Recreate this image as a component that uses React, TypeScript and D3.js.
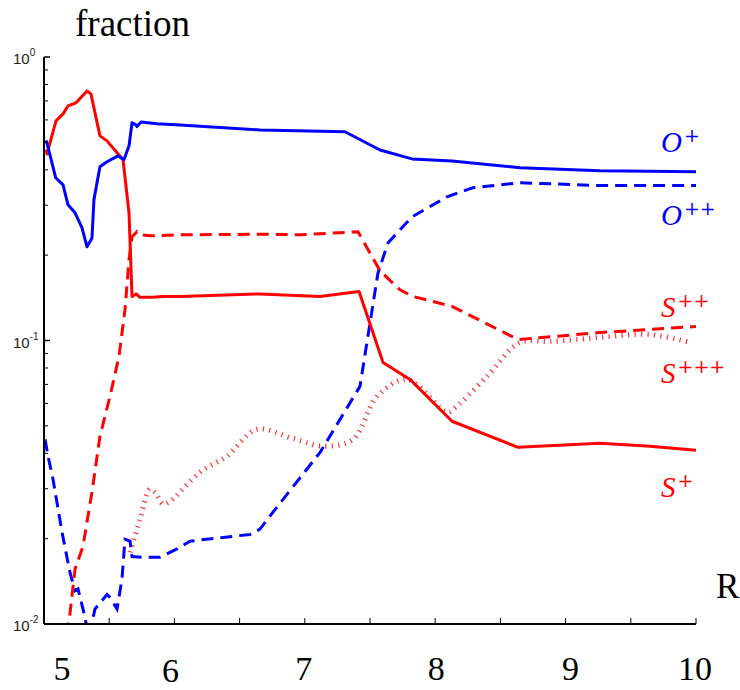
import React from "react";
import * as d3 from "d3";

// ---- data ----
const oPlusX = [5.015, 5.02, 5.09, 5.146, 5.184, 5.238, 5.291, 5.33, 5.368, 5.383, 5.429, 5.483, 5.567, 5.613, 5.652, 5.675, 5.706, 5.713, 5.744, 5.867, 6.043, 6.656, 7.308, 7.577, 7.822, 8.129, 8.65, 9.264, 10.0];
const oPlusY = [0.498, 0.503, 0.375, 0.354, 0.301, 0.282, 0.25, 0.214, 0.23, 0.314, 0.41, 0.427, 0.448, 0.434, 0.486, 0.586, 0.576, 0.568, 0.59, 0.581, 0.576, 0.553, 0.545, 0.47, 0.437, 0.43, 0.407, 0.397, 0.394];

const oPP_X = [5.008, 5.031, 5.069, 5.138, 5.199, 5.238, 5.261, 5.299, 5.345, 5.391, 5.483, 5.506, 5.56, 5.598, 5.621, 5.66, 5.675, 5.759, 5.89, 6.02, 6.12, 6.58, 6.656, 6.756, 7.117, 7.423, 7.561, 7.638, 7.822, 8.09, 8.29, 8.65, 9.264, 10.0];
const oPP_Y = [0.0448, 0.0391, 0.0324, 0.0211, 0.0152, 0.0131, 0.0133, 0.0113, 0.009, 0.0113, 0.0127, 0.0124, 0.0113, 0.0144, 0.0199, 0.0196, 0.0173, 0.0172, 0.0172, 0.0184, 0.0196, 0.0207, 0.0216, 0.0248, 0.0403, 0.0689, 0.173, 0.221, 0.273, 0.321, 0.346, 0.36, 0.352, 0.352];

const sPlusX = [5.015, 5.023, 5.092, 5.146, 5.184, 5.245, 5.33, 5.36, 5.429, 5.483, 5.606, 5.652, 5.675, 5.706, 5.736, 5.828, 5.913, 6.043, 6.656, 7.117, 7.416, 7.6, 7.807, 8.129, 8.635, 9.264, 9.647, 10.0];
const sPlusY = [0.471, 0.455, 0.595, 0.63, 0.672, 0.689, 0.759, 0.741, 0.527, 0.506, 0.434, 0.282, 0.143, 0.146, 0.142, 0.142, 0.143, 0.143, 0.146, 0.143, 0.149, 0.0837, 0.0729, 0.0519, 0.042, 0.0434, 0.0424, 0.041];

const sPP_X = [5.17, 5.192, 5.238, 5.299, 5.368, 5.429, 5.506, 5.575, 5.621, 5.652, 5.675, 5.713, 5.736, 5.813, 6.043, 6.656, 6.963, 7.408, 7.577, 7.73, 7.83, 8.129, 8.635, 9.264, 10.0];
const sPP_Y = [0.0092, 0.0102, 0.0156, 0.0188, 0.0292, 0.0459, 0.0635, 0.0879, 0.1285, 0.193, 0.232, 0.242, 0.236, 0.234, 0.236, 0.237, 0.236, 0.242, 0.176, 0.151, 0.143, 0.132, 0.1008, 0.1067, 0.112];

const sPPP_X = [5.66, 5.736, 5.813, 5.851, 5.913, 5.966, 6.196, 6.403, 6.633, 6.887, 7.14, 7.37, 7.554, 7.784, 8.09, 8.136, 8.397, 8.65, 8.88, 9.264, 9.647, 9.954];
const sPPP_Y = [0.0179, 0.0234, 0.0299, 0.0292, 0.0265, 0.0271, 0.0343, 0.0391, 0.0486, 0.0455, 0.0424, 0.0448, 0.0635, 0.0729, 0.0558, 0.0571, 0.0747, 0.0984, 0.0991, 0.1025, 0.105, 0.0984];

const xTickValues = [5, 5.5, 6, 6.5, 7, 7.5, 8, 8.5, 9, 9.5, 10];
const xLabelValues = [5, 6, 7, 8, 9, 10];
const yMajor = [1, 0.1, 0.01];
const yMajorExp = ["0", "-1", "-2"];

const BLUE = "#0000ff";
const RED = "#ff0000";

const zip = (xs: number[], ys: number[]) => xs.map((v, i) => [v, ys[i]] as [number, number]);

export default function App() {
  const W = 740, H = 690;
  const x = d3.scaleLinear().domain([5, 10]).range([44, 696]);
  const y = d3.scaleLog().domain([0.01, 1]).range([624, 57]);

  const line = d3.line<[number, number]>().x(d => x(d[0])).y(d => y(d[1]));
  const smooth = d3.line<[number, number]>().x(d => x(d[0])).y(d => y(d[1])).curve(d3.curveCatmullRom.alpha(0.5));

  const minor: number[] = [];
  for (const dec of [0.01, 0.1]) for (let k = 2; k <= 9; k++) minor.push(dec * k);

  const labelOffsets: Record<number, [number, number]> = { 5: [18, 680], 6: [-4, 682], 7: [-1, 680], 8: [1, 680], 9: [5, 680], 10: [-1, 680] };

  const serif = "'Liberation Serif', 'Times New Roman', serif";
  const sans = "'Liberation Sans', Arial, sans-serif";

  const seriesLabel = (base: string, sup: string, color: string, yy: number, key: string) => (
    <text key={key} x={661} y={yy} fill={color} fontFamily={serif}>
      <tspan fontStyle="italic" fontSize={29}>{base}</tspan>
      <tspan fontFamily="'DejaVu Serif', serif" fontSize={19} dy={-10} dx={2}>{sup}</tspan>
    </text>
  );

  return (
    <svg width={W} height={H} style={{ position: "absolute", left: 0, top: 0, background: "#fff" }}>
      <defs>
        <clipPath id="plotClip">
          <rect x={44} y={50} width={660} height={574} />
        </clipPath>
      </defs>
      <rect x={0} y={0} width={W} height={H} fill="#fff" />

      {/* title & axis name */}
      <text x={75} y={36} fontFamily={serif} fontSize={37} fill="#000">fraction</text>
      <text x={716} y={598} fontFamily={serif} fontSize={35} fill="#000">R</text>

      {/* curves */}
      <g clipPath="url(#plotClip)" fill="none">
        <path d={smooth(zip(sPPP_X, sPPP_Y)) || ""} stroke={RED} strokeOpacity={0.8} strokeWidth={5} strokeDasharray="1.2 5.3" />
        <path d={line(zip(oPP_X, oPP_Y)) || ""} stroke={BLUE} strokeWidth={3} strokeDasharray="12 7" />
        <path d={line(zip(sPP_X, sPP_Y)) || ""} stroke={RED} strokeWidth={3} strokeDasharray="12 7" />
        <path d={line(zip(sPlusX, sPlusY)) || ""} stroke={RED} strokeWidth={3} strokeLinejoin="round" />
        <path d={line(zip(oPlusX, oPlusY)) || ""} stroke={BLUE} strokeWidth={3} strokeLinejoin="round" />
      </g>

      {/* axes */}
      <line x1={x(5)} x2={x(5)} y1={y(1)} y2={y(0.01)} stroke="#000" strokeWidth={2} />
      <line x1={x(5)} x2={x(10)} y1={y(0.01)} y2={y(0.01)} stroke="#000" strokeWidth={2} />
      {xTickValues.map(v => (
        <line key={"xt" + v} x1={x(v)} x2={x(v)} y1={y(0.01)} y2={y(0.01) - 6} stroke="#000" strokeWidth={1} />
      ))}
      {yMajor.map(v => (
        <line key={"ym" + v} x1={x(5)} x2={x(5) + 6} y1={y(v)} y2={y(v)} stroke="#000" strokeWidth={1.5} />
      ))}
      {minor.map(v => (
        <line key={"yn" + v} x1={x(5)} x2={x(5) + 4} y1={y(v)} y2={y(v)} stroke="#000" strokeWidth={1} />
      ))}

      {/* y tick labels */}
      {yMajor.map((v, i) => (
        <text key={"yl" + v} x={13} y={y(v) + 7} fontFamily={sans} fontSize={15} fill="#222">
          10<tspan fontSize={10} dy={-8}>{yMajorExp[i]}</tspan>
        </text>
      ))}

      {/* x tick labels */}
      {xLabelValues.map(v => (
        <text key={"xl" + v} x={x(v) + labelOffsets[v][0]} y={labelOffsets[v][1]} textAnchor="middle" fontFamily={serif} fontSize={34} fill="#000">
          {v}
        </text>
      ))}

      {/* series labels */}
      {seriesLabel("O", "+", BLUE, 152, "o1")}
      {seriesLabel("O", "++", BLUE, 225, "o2")}
      {seriesLabel("S", "++", RED, 317, "s2")}
      {seriesLabel("S", "+++", RED, 383, "s3")}
      {seriesLabel("S", "+", RED, 497, "s1")}
    </svg>
  );
}
